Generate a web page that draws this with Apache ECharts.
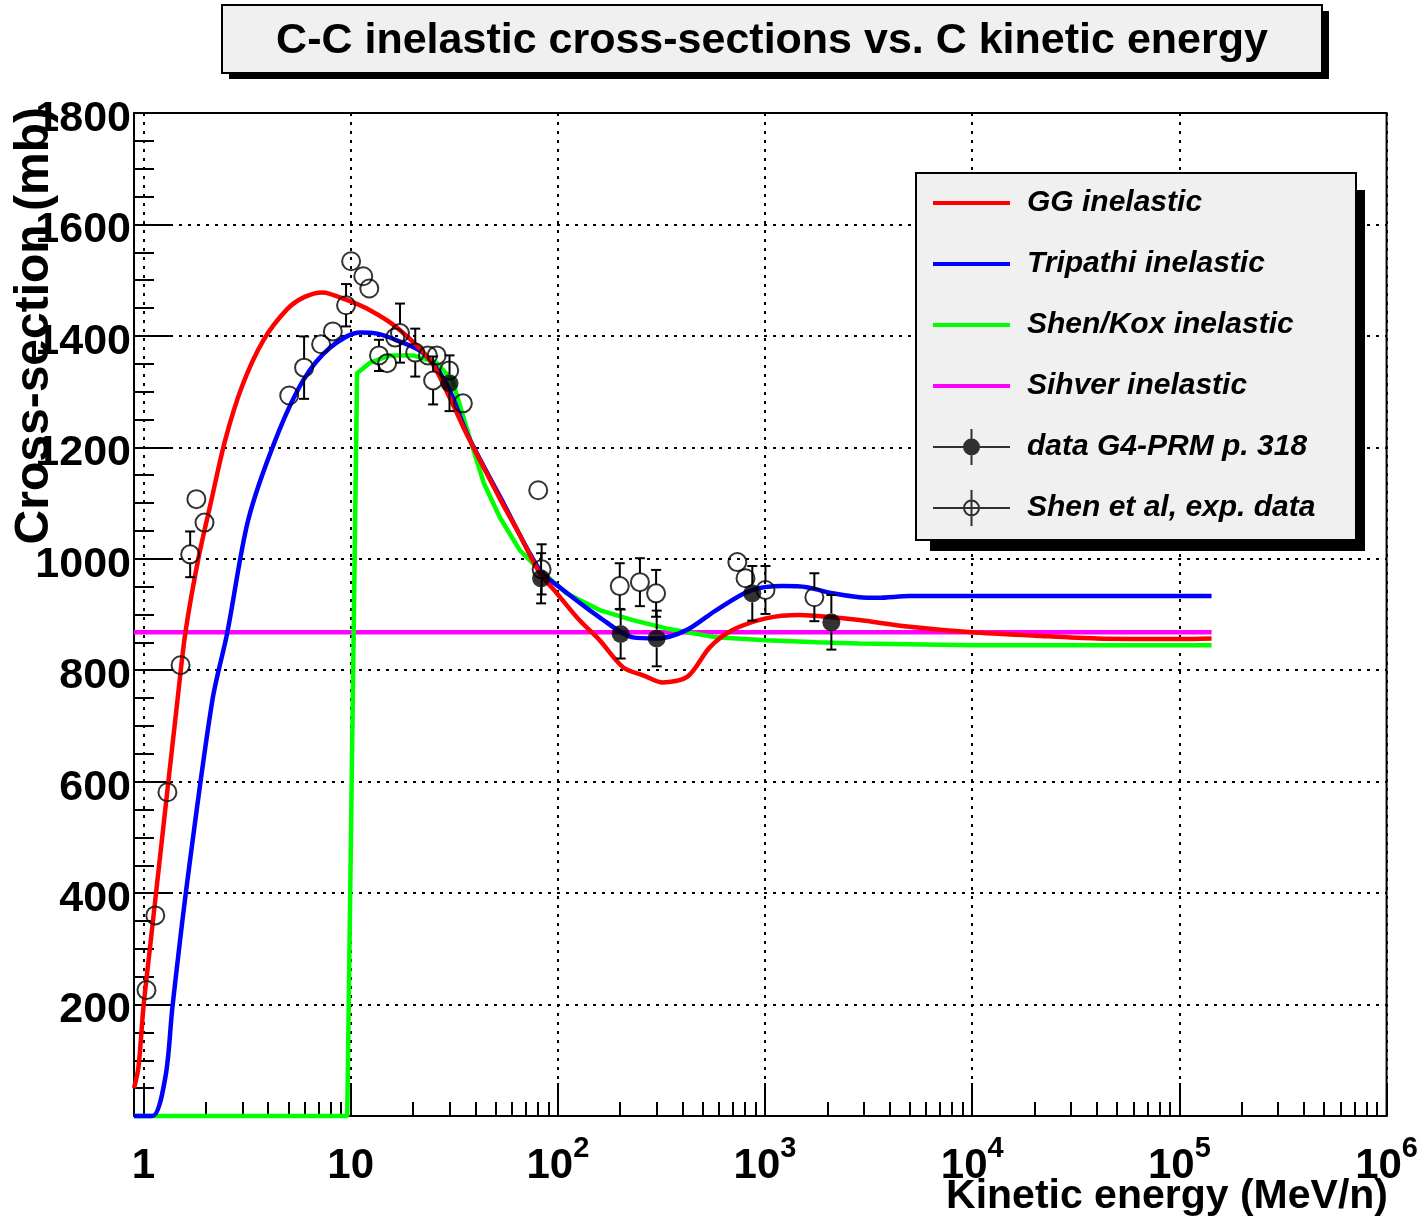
<!DOCTYPE html>
<html>
<head>
<meta charset="utf-8">
<title>C-C inelastic cross-sections</title>
<script src="https://cdn.jsdelivr.net/npm/echarts@6/dist/echarts.min.js"></script>
<style>
html, body { margin: 0; padding: 0; background: #fff; }
#main { width: 1421px; height: 1226px; }
</style>
</head>
<body>
<div id="main"></div>
<script>
var FONT = '"Liberation Sans", Arial, Helvetica, sans-serif';

// [kinetic energy (MeV/n), cross-section (mb)]
var ggInelastic = [
    [0.9, 50], [0.946, 88], [1.0, 196], [1.081, 310], [1.168, 423], [1.305, 585],
    [1.459, 746], [1.594, 868], [1.84, 1000], [2.1, 1096], [2.48, 1213], [3.0, 1311],
    [3.79, 1392], [4.94, 1448], [6.0, 1470], [7.3, 1478], [9.5, 1465], [12.4, 1446],
    [16.7, 1415], [24.2, 1356], [30, 1290], [36.5, 1222], [52.5, 1108], [65, 1045],
    [82, 974], [100, 936], [127, 890], [159, 854], [207, 805], [262, 790], [320, 778],
    [424, 789], [541, 841], [697, 872], [1010, 893], [1468, 899], [2120, 895],
    [2850, 890], [5000, 878], [10000, 868], [20000, 862], [40000, 857],
    [100000, 856], [143000, 857]
];
var tripathiInelastic = [
    [0.9, 0], [1.105, 0], [1.276, 70], [1.38, 196], [1.63, 423], [2.15, 746],
    [2.54, 868], [3.2, 1069], [4.33, 1213], [5.9, 1320], [7.97, 1379], [11.1, 1406],
    [13.4, 1404], [16.7, 1392], [22.4, 1369], [29.2, 1312], [36.5, 1224], [52.5, 1112],
    [82, 979], [102, 949], [159, 895], [230, 859], [300, 857], [418, 872], [582, 908],
    [850, 943], [1220, 951], [1590, 949], [2120, 938], [2850, 931], [3500, 930],
    [5000, 933], [143000, 933]
];
var shenKoxInelastic = [
    [0.9, 0], [9.63, 0], [10.74, 1333], [12.4, 1352], [15.5, 1365], [20, 1365],
    [26, 1352], [31, 1320], [37.8, 1213], [44, 1135], [52.5, 1074], [65.6, 1015], [82, 979],
    [110, 938], [159, 908], [230, 890], [334, 875], [582, 859], [1010, 854],
    [1780, 850], [2850, 848], [10000, 845], [143000, 845]
];
var sihverInelastic = [[0.9, 868], [143000, 868]];

// [energy, cross-section, error]
var g4prmData = [
    [30, 1315, 50], [83, 965, 45], [201, 865, 44], [300, 857, 50], [868, 938, 49], [2090, 886, 49]
];
var shenExpData = [
    [1.034, 226, 0], [1.14, 360, 0], [1.305, 581, 0], [1.51, 809, 0], [1.68, 1008, 41],
    [1.80, 1107, 0], [1.97, 1065, 0], [5.05, 1293, 0], [5.96, 1343, 56], [7.2, 1385, 0],
    [8.2, 1408, 0], [9.5, 1455, 38], [10.05, 1534, 0], [11.5, 1507, 0], [12.3, 1485, 0],
    [13.7, 1365, 28], [15.0, 1351, 0], [16.4, 1397, 0], [17.3, 1405, 53], [20.5, 1370, 43],
    [23.6, 1365, 0], [25, 1320, 43], [26, 1365, 0], [29.9, 1338, 0], [34.8, 1279, 0],
    [80.4, 1123, 0], [83.5, 981, 45], [199, 951, 41], [249, 958, 43], [298, 938, 42],
    [735, 994, 0], [805, 965, 0], [1005, 944, 43], [1730, 931, 43]
];

var xMajorExp = [0, 1, 2, 3, 4, 5, 6];
var xMinorMult = [2, 3, 4, 5, 6, 7, 8, 9];

function lg(v) { return Math.log(v) / Math.LN10; }
function toXY(list) {
    return list.map(function (p) { return [lg(p[0]), p[1]]; });
}
function toXYE(list) {
    return list.filter(function (p) { return p[2] > 0; })
        .map(function (p) { return [lg(p[0]), p[1], p[2]]; });
}
var xMinor = [];
for (var d = 0; d < 6; d++) {
    for (var m = 0; m < xMinorMult.length; m++) xMinor.push(lg(xMinorMult[m] * Math.pow(10, d)));
}

var R = 9; // marker radius, error bars stop at its edge
function renderErr(params, api) {
    var x = api.value(0), y = api.value(1), e = api.value(2);
    var c = api.coord([x, y]);
    var t = api.coord([x, y + e]);
    var b = api.coord([x, y - e]);
    var st = { stroke: '#000', lineWidth: 2 };
    var ch = [];
    if (c[1] - t[1] > R) {
        ch.push({ type: 'line', shape: { x1: c[0], y1: t[1], x2: c[0], y2: c[1] - R }, style: st });
        ch.push({ type: 'line', shape: { x1: c[0] - 5, y1: t[1], x2: c[0] + 5, y2: t[1] }, style: st });
        ch.push({ type: 'line', shape: { x1: c[0], y1: c[1] + R, x2: c[0], y2: b[1] }, style: st });
        ch.push({ type: 'line', shape: { x1: c[0] - 5, y1: b[1], x2: c[0] + 5, y2: b[1] }, style: st });
    }
    return { type: 'group', children: ch };
}

// legend icons, all with a 77x36 box
var lineIcon = 'path://M0,0Z M77,36Z M0,16H77V20H0Z';
var filledIcon = 'path://M0,17H77V19H0Z M37.5,0H39.5V36H37.5Z M30,18A8.5,8.5 0 1,1 47,18A8.5,8.5 0 1,1 30,18Z';
var openIcon = 'path://M0,17H77V19H0Z M37.5,0H39.5V36H37.5Z M30,18A8.5,8.5 0 1,1 47,18A8.5,8.5 0 1,1 30,18Z M32,18A6.5,6.5 0 1,0 45,18A6.5,6.5 0 1,0 32,18Z';

var myChart = echarts.init(document.getElementById('main'));

function curve(name, color, data, smooth) {
    return {
        type: 'line', name: name, data: toXY(data), symbol: 'none', clip: false, z: 2,
        smooth: smooth,
        lineStyle: { color: color, width: 4.5 }, itemStyle: { color: color }
    };
}

var option = {
    animation: false,
    backgroundColor: '#fff',
    textStyle: { fontFamily: FONT },
    grid: {
        left: 134, right: 33, top: 113, bottom: 110,
        show: true, borderColor: '#000', borderWidth: 2, backgroundColor: 'transparent'
    },
    xAxis: [{
        type: 'value', min: lg(0.9), max: 6, position: 'bottom',
        axisLine: { show: true, onZero: false, lineStyle: { color: '#000', width: 2 } },
        axisTick: { show: true, inside: true, length: 33, customValues: xMajorExp,
            lineStyle: { color: '#000', width: 2 } },
        axisLabel: {
            show: true, customValues: xMajorExp, margin: 18, color: '#000',
            formatter: function (v) {
                if (v === 0) return '{b|1}';
                if (v === 1) return '{b|10}';
                return '{b|10}{s|' + v + '}';
            },
            rich: {
                b: { fontFamily: FONT, fontSize: 42, fontWeight: 'bold', color: '#000',
                    lineHeight: 42, padding: [22, 0, 0, 0] },
                s: { fontFamily: FONT, fontSize: 29, fontWeight: 'bold', color: '#000',
                    lineHeight: 29, verticalAlign: 'top' }
            }
        },
        splitLine: { show: true, lineStyle: { color: '#000', width: 2, type: [3, 6] } }
    }, {
        type: 'value', min: lg(0.9), max: 6, position: 'bottom',
        axisLine: { show: false }, axisLabel: { show: false }, splitLine: { show: false },
        axisTick: { show: true, inside: true, length: 14, customValues: xMinor,
            lineStyle: { color: '#000', width: 2 } }
    }],
    yAxis: {
        type: 'value', min: 0, max: 1800, interval: 200,
        axisLine: { show: true, onZero: false, lineStyle: { color: '#000', width: 2 } },
        axisTick: { show: true, inside: true, length: 37, lineStyle: { color: '#000', width: 2 } },
        minorTick: { show: true, splitNumber: 4, length: 20, lineStyle: { color: '#000', width: 2 } },
        axisLabel: {
            margin: 3, color: '#000',
            formatter: function (v) { return v === 0 ? '' : '{a|' + v + '}'; },
            rich: {
                a: { fontFamily: FONT, fontSize: 43, fontWeight: 'bold', color: '#000',
                    lineHeight: 43, padding: [12, 0, 0, 0] }
            }
        },
        splitLine: { show: true, lineStyle: { color: '#000', width: 2, type: [3, 6] } }
    },
    legend: {
        orient: 'vertical', left: 933, top: 185, itemWidth: 77, itemHeight: 36, itemGap: 25,
        padding: 0, selectedMode: false, z: 5,
        textStyle: { fontFamily: FONT, fontSize: 30, fontWeight: 'bold', fontStyle: 'italic',
            color: '#000', padding: [0, 0, 0, 12] },
        data: [
            { name: 'GG inelastic', icon: lineIcon },
            { name: 'Tripathi inelastic', icon: lineIcon },
            { name: 'Shen/Kox inelastic', icon: lineIcon },
            { name: 'Sihver inelastic', icon: lineIcon },
            { name: 'data G4-PRM p. 318', icon: filledIcon, itemStyle: { color: '#000', borderWidth: 0 } },
            { name: 'Shen et al, exp. data', icon: openIcon, itemStyle: { color: '#000', borderWidth: 0 } }
        ]
    },
    graphic: [
        { type: 'rect', z: 3, shape: { x: 229, y: 11, width: 1100, height: 68 }, style: { fill: '#000' } },
        { type: 'rect', z: 3, shape: { x: 222, y: 5, width: 1100, height: 68 },
            style: { fill: '#f0f0f0', stroke: '#000', lineWidth: 2 } },
        { type: 'text', z: 5, x: 772, y: 41,
            style: { text: 'C-C inelastic cross-sections vs. C kinetic energy', fill: '#000',
                font: 'bold 43px ' + FONT, align: 'center', verticalAlign: 'middle' } },
        { type: 'rect', z: 3, shape: { x: 930, y: 190, width: 435, height: 361 }, style: { fill: '#000' } },
        { type: 'rect', z: 3, shape: { x: 916, y: 173, width: 440, height: 367 },
            style: { fill: '#f0f0f0', stroke: '#000', lineWidth: 2 } },
        { type: 'text', z: 5, x: 35, y: 107, rotation: Math.PI / 2,
            style: { text: 'Cross-section (mb)', fill: '#000', font: 'bold 48px ' + FONT,
                align: 'right', verticalAlign: 'middle' } },
        { type: 'text', z: 5, x: 1388, y: 1197,
            style: { text: 'Kinetic energy (MeV/n)', fill: '#000', font: 'bold 41px ' + FONT,
                align: 'right', verticalAlign: 'middle' } }
    ],
    series: [
        curve('Sihver inelastic', '#ff00ff', sihverInelastic, false),
        curve('Shen/Kox inelastic', '#00ff00', shenKoxInelastic, false),
        curve('Tripathi inelastic', '#0000ff', tripathiInelastic, 0.3),
        curve('GG inelastic', '#ff0000', ggInelastic, 0.3),
        { type: 'custom', name: 'g4err', renderItem: renderErr, data: toXYE(g4prmData),
            encode: { x: 0, y: 1 }, z: 3 },
        { type: 'custom', name: 'shenerr', renderItem: renderErr, data: toXYE(shenExpData),
            encode: { x: 0, y: 1 }, z: 3 },
        { type: 'scatter', name: 'data G4-PRM p. 318', data: toXY(g4prmData), symbol: 'circle',
            symbolSize: 18, itemStyle: { color: '#000', borderWidth: 0 }, z: 4 },
        { type: 'scatter', name: 'Shen et al, exp. data', data: toXY(shenExpData), symbol: 'circle',
            symbolSize: 18, itemStyle: { color: 'rgba(0,0,0,0)', borderColor: '#000', borderWidth: 2 }, z: 4 }
    ]
};
myChart.setOption(option, true);
window.onresize = myChart.resize;
</script>
</body>
</html>
